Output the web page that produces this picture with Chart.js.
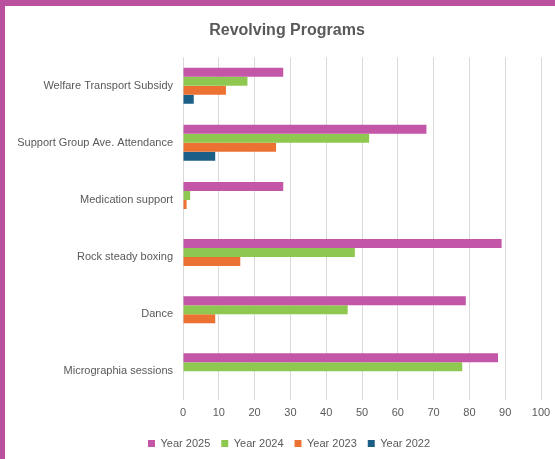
<!DOCTYPE html>
<html>
<head>
<meta charset="utf-8">
<script src="https://cdn.jsdelivr.net/npm/chart.js@4"></script>
<style>
  body { margin: 0; background: #fff; }
  #frame {
    width: 550px; height: 453px;
    border-top: 6px solid #b9519e;
    border-left: 5px solid #b9519e;
    position: relative;
  }
  canvas { display: block; }
</style>
</head>
<body>
<div id="frame"><canvas id="chart" width="550" height="453"></canvas></div>
<script>
// --- Data ---
const programs = [
  "Welfare Transport Subsidy",
  "Support Group Ave. Attendance",
  "Medication support",
  "Rock steady boxing",
  "Dance",
  "Micrographia sessions"
];
const year2025 = [28, 68, 28, 89, 79, 88];
const year2024 = [18, 52, 2, 48, 46, 78];
const year2023 = [12, 26, 1, 16, 9, null];
const year2022 = [3, 9, null, null, null, null];
const xTicks = [0, 10, 20, 30, 40, 50, 60, 70, 80, 90, 100];

const grey = "#595959";

function series(label, data, color) {
  return {
    label,
    data,
    backgroundColor: color,
    borderWidth: 0,
    barPercentage: 1,
    categoryPercentage: 0.63
  };
}

// nudge title and legend to the right (they sit off-centre in the original)
const nudge = {
  id: "nudge",
  afterLayout(chart) {
    if (chart.titleBlock) { chart.titleBlock.left += 14; chart.titleBlock.right += 14; }
    if (chart.legend) { chart.legend.left += 16; chart.legend.right += 16; }
  }
};

new Chart(document.getElementById("chart").getContext("2d"), {
  type: "bar",
  data: {
    labels: programs,
    datasets: [
      series("Year 2025", year2025, "#c356a7"),
      series("Year 2024", year2024, "#8fc850"),
      series("Year 2023", year2023, "#ec7233"),
      series("Year 2022", year2022, "#1c5f86")
    ]
  },
  options: {
    indexAxis: "y",
    responsive: false,
    animation: false,
    layout: { padding: { left: 0, right: 14, top: 0, bottom: 0 } },
    plugins: {
      title: {
        display: true,
        text: "Revolving Programs",
        color: grey,
        font: { family: "Liberation Sans", size: 16, weight: "bold" },
        padding: { top: 15, bottom: 17 }
      },
      legend: {
        position: "bottom",
        labels: {
          color: grey,
          boxWidth: 7,
          boxHeight: 7,
          padding: 11,
          font: { family: "Liberation Sans", size: 11 }
        }
      },
      tooltip: { enabled: false }
    },
    scales: {
      x: {
        min: 0,
        max: 100,
        afterBuildTicks: (axis) => { axis.ticks = xTicks.map(v => ({ value: v })); },
        afterFit: (axis) => { axis.paddingRight = 0; axis.paddingLeft = 0; },
        grid: { color: "#d9d9d9", drawTicks: false },
        border: { display: false },
        ticks: {
          color: grey,
          padding: 7,
          font: { family: "Liberation Sans", size: 11 }
        }
      },
      y: {
        grid: { display: false, drawTicks: false },
        border: { display: false },
        afterFit: (axis) => { axis.width = 178; },
        ticks: {
          color: grey,
          padding: 10,
          font: { family: "Liberation Sans", size: 11 }
        }
      }
    }
  },
  plugins: [nudge]
});
</script>
</body>
</html>
